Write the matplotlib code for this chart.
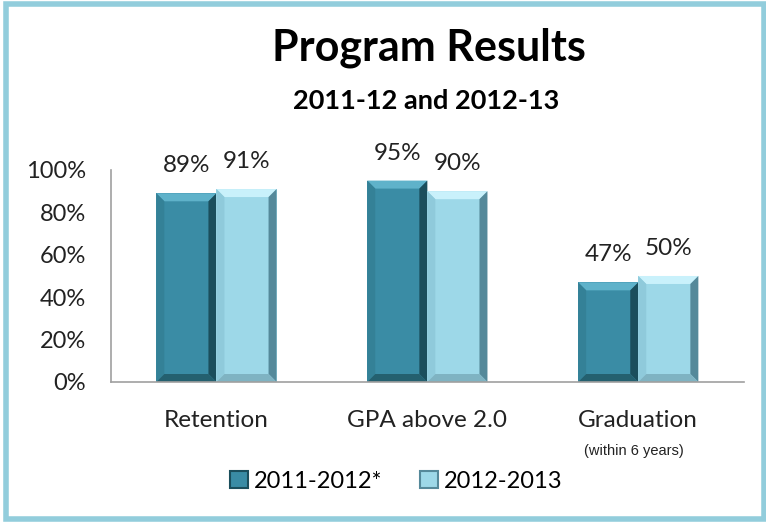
import numpy as np
import matplotlib.pyplot as plt
from matplotlib.patches import Rectangle, Polygon

categories = ['Retention', 'GPA above 2.0', 'Graduation']
series_names = ['2011-2012*', '2012-2013']
vals_2011 = [89, 95, 47]
vals_2012 = [91, 90, 50]
colors = ['#3A8CA5', '#9DD8E8']
# bevel shades: top, left, right, bottom
bevels = [['#5FB2CA', '#348197', '#1B4E5C', '#24606F'],
          ['#C9F1FB', '#8FCADB', '#55899A', '#7FB3C2']]

plt.rcParams['font.family'] = ['Lato', 'DejaVu Sans']

fig = plt.figure(figsize=(7.66, 5.23), dpi=100)
ax = fig.add_axes([0.1449, 0.2696, 0.826, 0.4054])
ax.set_xlim(-0.5, 2.5)
ax.set_ylim(0, 100)

x = np.arange(len(categories))
w = 0.285

# bevel size in data units, from the axes scale (about 8 px)
p0 = ax.transData.inverted().transform((0, 0))
p1 = ax.transData.inverted().transform((8, 8))
bx, by = p1 - p0

for i, (vals, c, name) in enumerate(zip([vals_2011, vals_2012], colors, series_names)):
    pos = x + (i - 0.5) * w
    bars = ax.bar(pos, vals, w, color=c, edgecolor='none', label=name)
    for b, v in zip(bars, vals):
        x0, x1 = b.get_x(), b.get_x() + b.get_width()
        y0, y1 = 0, b.get_height()
        top, left, right, bot = bevels[i]
        ax.add_patch(Polygon([(x0, y1), (x1, y1), (x1 - bx, y1 - by), (x0 + bx, y1 - by)],
                             color=top, lw=0))
        ax.add_patch(Polygon([(x0, y0), (x0, y1), (x0 + bx, y1 - by), (x0 + bx, y0 + by)],
                             color=left, lw=0))
        ax.add_patch(Polygon([(x1, y0), (x1, y1), (x1 - bx, y1 - by), (x1 - bx, y0 + by)],
                             color=right, lw=0))
        ax.add_patch(Polygon([(x0, y0), (x1, y0), (x1 - bx, y0 + by), (x0 + bx, y0 + by)],
                             color=bot, lw=0))
        ax.text(b.get_x() + b.get_width() / 2, v + 8, f'{v}%', ha='center', va='bottom',
                fontsize=17.5, color='#222222')

ax.set_yticks([0, 20, 40, 60, 80, 100])
ax.set_yticklabels([f'{t}%' for t in [0, 20, 40, 60, 80, 100]], fontsize=17, color='#222222')
ax.set_xticks(x)
ax.set_xticklabels(categories, fontsize=17.5, color='#222222')
ax.tick_params(axis='y', length=0, pad=18)
ax.tick_params(axis='x', length=0, pad=20)
for s in ['top', 'right']:
    ax.spines[s].set_visible(False)
ax.spines['bottom'].set_color('#A0A0A0')
ax.spines['left'].set_color('#A0A0A0')
ax.spines['bottom'].set_linewidth(1.2)
ax.spines['left'].set_linewidth(1.2)

fig.text(0.828, 0.138, '(within 6 years)', ha='center', va='center', fontsize=10.5,
         family='Liberation Sans', color='#222222')

fig.text(0.56, 0.908, 'Program Results', ha='center', va='center', fontsize=31, fontweight='bold')
fig.text(0.556, 0.806, '2011-12 and 2012-13', ha='center', va='center', fontsize=19.5, fontweight='bold')

leg = ax.legend(loc='center', bbox_to_anchor=(0.517, 0.08), bbox_transform=fig.transFigure,
                ncol=2, frameon=False, fontsize=17, handlelength=0.75, handleheight=0.75,
                columnspacing=1.6, handletextpad=0.25)
for h, ec in zip(leg.legend_handles, ['#1B4E5C', '#55899A']):
    h.set_edgecolor(ec)
    h.set_linewidth(1.5)

fig.patches.append(Rectangle((0.008, 0.008), 0.99, 0.984, transform=fig.transFigure,
                             fill=False, edgecolor='#92CDDC', linewidth=4))

plt.savefig('out.png')
